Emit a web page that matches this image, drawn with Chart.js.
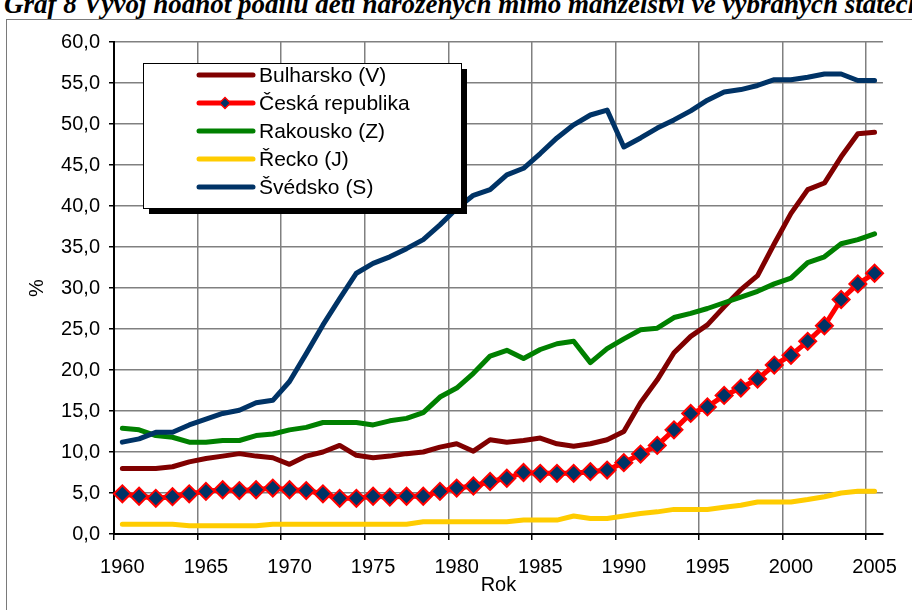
<!DOCTYPE html>
<html><head><meta charset="utf-8">
<script src="https://cdn.jsdelivr.net/npm/chart.js@4/dist/chart.umd.min.js"></script>
<style>
html,body{margin:0;padding:0;background:#fff;overflow:hidden;width:912px;height:610px;}
#wrap{position:relative;width:912px;height:610px;overflow:hidden;}
#frame{position:absolute;left:6px;top:19px;width:1000px;height:1000px;border:1px solid #7a7a7a;}
#title{position:absolute;left:4px;top:-9px;font:italic bold 27px/27px "Liberation Serif";white-space:nowrap;color:#000;}
canvas{position:absolute;left:0;top:0;}
</style></head>
<body><div id="wrap"><div id="frame"></div><div id="title">Graf 8 Vývoj hodnot podílu dětí narozených mimo manželství ve vybraných státech</div><canvas id="c" width="912" height="610"></canvas></div>
<script>
const years = [1960,1961,1962,1963,1964,1965,1966,1967,1968,1969,1970,1971,1972,1973,1974,1975,1976,1977,1978,1979,1980,1981,1982,1983,1984,1985,1986,1987,1988,1989,1990,1991,1992,1993,1994,1995,1996,1997,1998,1999,2000,2001,2002,2003,2004,2005];
const bulharsko = [8.0,8.0,8.0,8.2,8.8,9.2,9.5,9.8,9.5,9.3, 8.5,9.5,10.0,10.8,9.6,9.3,9.5,9.8,10.0,10.6, 11.0,10.1,11.5,11.2,11.4,11.7,11.0,10.7,11.0,11.5, 12.5,16.0,18.8,22.1,24.1,25.5,27.7,29.8,31.5,35.4, 39.1,42.0,42.8,46.0,48.8,49.0];
const ceskaRepublika = [4.9,4.6,4.35,4.55,4.9,5.2,5.4,5.3,5.4,5.6, 5.4,5.3,4.9,4.35,4.35,4.6,4.5,4.6,4.6,5.2, 5.6,5.85,6.4,6.8,7.5,7.4,7.4,7.4,7.6,7.8, 8.7,9.75,10.8,12.7,14.7,15.5,16.9,17.8,18.9,20.6, 21.8,23.5,25.4,28.6,30.5,31.8];
const rakousko = [12.9,12.7,12.0,11.8,11.2,11.2,11.4,11.4,12.0,12.2, 12.7,13.0,13.6,13.6,13.6,13.3,13.8,14.1,14.8,16.7, 17.8,19.6,21.7,22.4,21.4,22.5,23.2,23.5,20.9,22.6, 23.8,24.9,25.1,26.4,26.9,27.5,28.2,28.9,29.6,30.5, 31.2,33.1,33.8,35.4,35.9,36.6];
const recko = [1.2,1.2,1.2,1.2,1.0,1.0,1.0,1.0,1.0,1.2, 1.2,1.2,1.2,1.2,1.2,1.2,1.2,1.2,1.5,1.5, 1.5,1.5,1.5,1.5,1.7,1.7,1.7,2.2,1.9,1.9, 2.2,2.5,2.7,3.0,3.0,3.0,3.25,3.5,3.9,3.9, 3.9,4.2,4.55,5.0,5.2,5.2];
const svedsko = [11.2,11.6,12.4,12.4,13.3,14.0,14.7,15.1,16.0,16.3, 18.6,22.0,25.5,28.7,31.8,33.0,33.8,34.8,35.9,37.7, 39.7,41.3,42.0,43.8,44.6,46.4,48.3,49.9,51.1,51.7, 47.2,48.3,49.5,50.5,51.6,52.9,53.9,54.2,54.7,55.4, 55.4,55.7,56.1,56.1,55.3,55.3];
const seriesNames = ['Bulharsko (V)','Česká republika','Rakousko (Z)','Řecko (J)','Švédsko (S)'];
const yTicks = [0,5,10,15,20,25,30,35,40,45,50,55,60];
const labelEvery = 5;

const FONT = '"Liberation Sans", Arial, sans-serif';

function lineDs(label, data, color, order, extra) {
  return Object.assign({
    label, data, borderColor: color, backgroundColor: color,
    borderWidth: 5, pointRadius: 0, pointHoverRadius: 0, tension: 0,
    borderCapStyle: 'round', borderJoinStyle: 'round', fill: false, order
  }, extra || {});
}

const boxLegend = {
  id: 'boxLegend',
  afterDraw(chart) {
    const ctx = chart.ctx;
    const x = 143, y = 63, w = 318, h = 145;
    ctx.save();
    ctx.fillStyle = '#000';
    ctx.fillRect(x + 6, y + 6, w, h);
    ctx.fillStyle = '#fff';
    ctx.fillRect(x, y, w, h);
    ctx.strokeStyle = '#000';
    ctx.lineWidth = 1;
    ctx.strokeRect(x + 0.5, y + 0.5, w, h);
    ctx.font = '21px ' + FONT;
    ctx.textBaseline = 'middle';
    ctx.textAlign = 'left';
    chart.data.datasets.forEach((ds, i) => {
      const cy = 75 + i * 28;
      ctx.strokeStyle = ds.borderColor;
      ctx.lineWidth = 5;
      ctx.lineCap = 'round';
      ctx.beginPath(); ctx.moveTo(199, cy); ctx.lineTo(253, cy); ctx.stroke();
      if (ds.pointRadius > 0) {
        const r = 5.5, cx = 225;
        ctx.beginPath();
        ctx.moveTo(cx - r, cy); ctx.lineTo(cx, cy - r); ctx.lineTo(cx + r, cy); ctx.lineTo(cx, cy + r); ctx.closePath();
        ctx.fillStyle = ds.pointBackgroundColor; ctx.fill();
        ctx.lineWidth = 1.5; ctx.strokeStyle = ds.pointBorderColor; ctx.stroke();
      }
      ctx.fillStyle = '#000';
      ctx.fillText(ds.label, 259, cy + 1);
    });
    ctx.restore();
  }
};

new Chart(document.getElementById('c'), {
  type: 'line',
  data: {
    labels: years,
    datasets: [
      lineDs(seriesNames[0], bulharsko, '#800000', 5),
      lineDs(seriesNames[1], ceskaRepublika, '#FF0000', 4, {
        pointRadius: 8.5, pointStyle: 'rectRot', pointBackgroundColor: '#003366',
        pointBorderColor: '#FF0000', pointBorderWidth: 2
      }),
      lineDs(seriesNames[2], rakousko, '#008000', 3),
      lineDs(seriesNames[3], recko, '#FFCC00', 2),
      lineDs(seriesNames[4], svedsko, '#003366', 1)
    ]
  },
  options: {
    responsive: false,
    animation: false,
    events: [],
    layout: { padding: { left: 20, right: 17, top: 42, bottom: 10 } },
    plugins: { legend: { display: false }, tooltip: { enabled: false }, title: { display: false } },
    scales: {
      x: {
        type: 'category',
        offset: true,
        grid: {
          offset: true,
          color: ctx => (ctx.index % labelEvery === 0 || ctx.index === years.length) ? '#808080' : 'rgba(0,0,0,0)',
          tickColor: ctx => (ctx.index % labelEvery === 0 || ctx.index === years.length) ? '#000' : 'rgba(0,0,0,0)',
          tickLength: 6,
          lineWidth: 1.5
        },
        border: { color: '#000', width: 2 },
        ticks: {
          autoSkip: false, maxRotation: 0, minRotation: 0,
          color: '#000', font: { family: FONT, size: 20 }, padding: 15,
          callback: function (v, i) { return i % labelEvery === 0 ? String(years[i]) : ''; }
        },
        title: { display: true, text: 'Rok', color: '#000', font: { family: FONT, size: 20 }, padding: { top: 0, bottom: 3 } },
        afterFit: s => { s.height = 66; }
      },
      y: {
        min: 0, max: 60,
        afterBuildTicks: s => { s.ticks = yTicks.map(v => ({ value: v })); },
        grid: { color: '#808080', lineWidth: 1.5, tickLength: 5, tickColor: '#000' },
        border: { color: '#000', width: 2 },
        ticks: {
          color: '#000', font: { family: FONT, size: 20 }, padding: 9,
          callback: v => v.toFixed(1).replace('.', ',')
        },
        title: { display: true, text: '%', color: '#000', font: { family: FONT, size: 20 }, padding: { top: 5, bottom: 0 } },
        afterFit: s => { s.width = 94; }
      }
    }
  },
  plugins: [boxLegend]
});
</script>
</body></html>
